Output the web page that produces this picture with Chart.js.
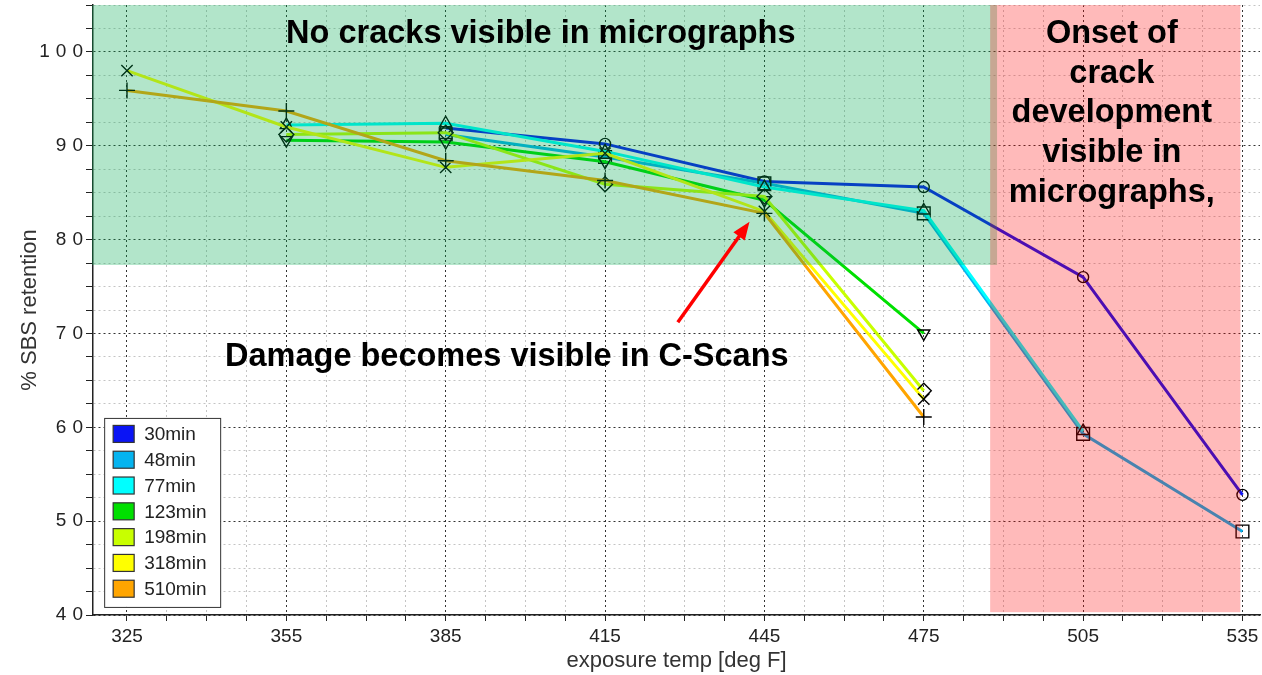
<!DOCTYPE html>
<html>
<head>
<meta charset="utf-8">
<script src="https://cdn.jsdelivr.net/npm/chart.js@4.4.1/dist/chart.umd.min.js"></script>
<style>
  body { margin: 0; background: #fff; }
  #wrap { width: 1262px; height: 675px; position: relative; }
</style>
</head>
<body>
<div id="wrap"><canvas id="sbsChart"></canvas></div>
<script>
      // exposure temperatures (x categories)
      const temps = [325, 355, 385, 415, 445, 475, 505, 535];

      // % SBS retention per exposure time, null = not tested
      const ret30 = [null, null, 91.9, 90.2, 86.2, 85.6, 76.0, 52.8];
      const ret48 = [null, null, 91.2, 88.8, 86.0, 82.8, 59.3, 48.9];
      const ret77 = [null, 92.2, 92.4, 89.4, 85.6, 83.1, 59.6, null];
      const ret123 = [null, 90.6, 90.4, 88.3, 84.2, 70.0, null, null];
      const ret198 = [null, 91.2, 91.4, 85.9, 84.6, 63.9, null, null];
      const ret318 = [98.0, 92.0, 87.7, 89.2, 83.0, 63.0, null, null];
      const ret510 = [95.9, 93.7, 88.4, 86.3, 82.8, 61.1, null, null];

      const seriesNames = ['30min', '48min', '77min', '123min', '198min', '318min', '510min'];
      const seriesValues = [ret30, ret48, ret77, ret123, ret198, ret318, ret510];

      // tick labels
      const xMajorTicks = [325, 355, 385, 415, 445, 475, 505, 535];
      const yMajorTicks = [40, 50, 60, 70, 80, 90, 100];

      // annotation texts
      const topLeftNote = 'No cracks visible in micrographs';
      const topRightNote = ['Onset of', 'crack', 'development', 'visible in', 'micrographs,'];
      const middleNote = 'Damage becomes visible in C-Scans';

      // styles kept apart from the data
      const lineColors = ['#0a14f5', '#05b4f0', '#00ffff', '#00e000', '#c8ff00', '#ffff00', '#ffa500'];
      const markerStyles = ['circle', 'rect', 'triangle', 'triangle', 'rectRot', 'crossRot', 'cross'];
      const markerRotation = [0, 0, 0, 180, 0, 0, 0];
      const markerRadius = [5.5, 9, 7, 7, 7.5, 8, 8];

      const datasets = seriesNames.map((name, i) => ({
        label: name,
        data: temps.map((t, k) => ({ x: t, y: seriesValues[i][k] })).filter(p => p.y !== null),
        borderColor: lineColors[i],
        backgroundColor: lineColors[i],
        borderWidth: 3,
        tension: 0,
        pointStyle: markerStyles[i],
        pointRotation: markerRotation[i],
        pointRadius: markerRadius[i],
        pointBorderColor: '#000',
        pointBackgroundColor: 'rgba(0,0,0,0)',
        pointBorderWidth: 1.4,
        order: seriesNames.length - i // later series drawn on top
      }));

      const isMajorX = v => xMajorTicks.includes(v);
      const isMajorY = v => yMajorTicks.includes(v);

      // y tick digits in the original are spaced out
      const spacedLabels = {
        id: 'spacedLabels',
        beforeDraw(chart) {
          const ys = chart.scales.y;
          if (ys._spaced) return;
          const orig = ys.drawLabels.bind(ys);
          ys.drawLabels = function (area) {
            const c = this.ctx;
            c.save();
            c.letterSpacing = '6px';
            c.translate(6, 0);
            orig(area);
            c.restore();
          };
          ys._spaced = true;
        }
      };

      // shaded zones + notes, drawn over the lines like in the original
      const zonePlugin = {
        id: 'zones',
        afterDatasetsDraw(chart) {
          const { ctx, chartArea: a, scales: { x, y } } = chart;
          ctx.save();
          ctx.fillStyle = 'rgba(0,170,80,0.30)';
          const gx = x.getPixelForValue(488.8);
          ctx.fillRect(a.left - 1, a.top, gx - a.left + 1, y.getPixelForValue(77.3) - a.top);
          ctx.fillStyle = 'rgba(255,0,0,0.27)';
          const px0 = x.getPixelForValue(487.5), px1 = x.getPixelForValue(534.6);
          ctx.fillRect(px0, a.top, px1 - px0, y.getPixelForValue(40.3) - a.top);
          ctx.restore();
        },
        afterDraw(chart) {
          const { ctx, scales: { x, y } } = chart;
          ctx.save();
          ctx.fillStyle = '#000';
          ctx.font = 'bold 32.5px "Liberation Sans", Arial, sans-serif';
          ctx.textAlign = 'center';
          ctx.textBaseline = 'middle';
          ctx.fillText(topLeftNote, x.getPixelForValue(402.9), y.getPixelForValue(101.9));
          topRightNote.forEach((line, i) => {
            ctx.fillText(line, x.getPixelForValue(510.4), y.getPixelForValue(101.9 - i * 4.23));
          });
          ctx.fillText(middleNote, x.getPixelForValue(396.5), y.getPixelForValue(67.5));

          // red arrow
          const x0 = x.getPixelForValue(428.7), y0 = y.getPixelForValue(71.2);
          const x1 = x.getPixelForValue(442.2), y1 = y.getPixelForValue(81.9);
          const ang = Math.atan2(y1 - y0, x1 - x0);
          ctx.strokeStyle = '#ff0000';
          ctx.fillStyle = '#ff0000';
          ctx.lineWidth = 3.5;
          ctx.beginPath();
          ctx.moveTo(x0, y0);
          ctx.lineTo(x1 - 14 * Math.cos(ang), y1 - 14 * Math.sin(ang));
          ctx.stroke();
          ctx.beginPath();
          ctx.moveTo(x1, y1);
          ctx.lineTo(x1 - 18 * Math.cos(ang) + 7 * Math.sin(ang), y1 - 18 * Math.sin(ang) - 7 * Math.cos(ang));
          ctx.lineTo(x1 - 18 * Math.cos(ang) - 7 * Math.sin(ang), y1 - 18 * Math.sin(ang) + 7 * Math.cos(ang));
          ctx.closePath();
          ctx.fill();

          // legend box, bottom left inside the plot
          const lx = x.getPixelForValue(320.7), ly = y.getPixelForValue(61.0);
          const lw = 116, lh = 189, rowH = 25.8;
          ctx.fillStyle = '#fff';
          ctx.fillRect(lx, ly, lw, lh);
          ctx.strokeStyle = '#333';
          ctx.lineWidth = 1;
          ctx.strokeRect(lx + 0.5, ly + 0.5, lw, lh);
          ctx.font = '19px "Liberation Sans", Arial, sans-serif';
          ctx.textAlign = 'left';
          seriesNames.forEach((name, i) => {
            const cy = ly + 16 + i * rowH;
            ctx.fillStyle = lineColors[i];
            ctx.fillRect(lx + 9, cy - 8.5, 21, 17);
            ctx.strokeStyle = '#333';
            ctx.lineWidth = 1.2;
            ctx.strokeRect(lx + 9, cy - 8.5, 21, 17);
            ctx.fillStyle = '#222';
            ctx.fillText(name, lx + 40, cy + 1);
          });
          ctx.restore();
        }
      };

      const ctxSbs = document.getElementById('sbsChart').getContext('2d');
      const sbsChart = new Chart(ctxSbs, {
        type: 'line',
        data: { datasets: datasets },
        plugins: [spacedLabels, zonePlugin],
        options: {
          responsive: true,
          maintainAspectRatio: false,
          animation: false,
          layout: { autoPadding: false, padding: { top: 5, right: 2, left: 0, bottom: 0 } },
          plugins: { legend: { display: false }, tooltip: { enabled: false } },
          scales: {
            x: {
              type: 'linear',
              min: 318.6,
              max: 538.3,
              afterBuildTicks: axis => {
                const t = [];
                for (let v = 325; v <= 538.3; v += 7.5) t.push({ value: v });
                axis.ticks = t;
              },
              afterFit: axis => {
                axis.height = 60;
                axis.paddingLeft = 0;
                axis.paddingRight = 0;
              },
              ticks: {
                autoSkip: false,
                maxRotation: 0,
                padding: 4,
                color: '#222',
                font: { size: 19 },
                callback: v => isMajorX(v) ? String(v) : ''
              },
              grid: {
                color: c => (c.tick && isMajorX(c.tick.value)) ? '#333' : '#c4c4c4',
                lineWidth: 1,
                tickColor: '#222',
                tickLength: 6
              },
              border: { display: true, color: '#222', width: 1.5, dash: [2, 3] },
              title: {
                display: true,
                text: 'exposure temp [deg F]',
                color: '#333',
                font: { size: 22 },
                padding: { top: 0, bottom: 1 }
              }
            },
            y: {
              min: 40,
              max: 105,
              afterBuildTicks: axis => {
                const t = [];
                for (let v = 40; v <= 105; v += 2.5) t.push({ value: v });
                axis.ticks = t;
              },
              afterFit: axis => {
                axis.width = 93;
                axis.paddingTop = 0;
                axis.paddingBottom = 0;
              },
              ticks: {
                autoSkip: false,
                padding: 3,
                color: '#222',
                font: { size: 19 },
                callback: v => isMajorY(v) ? String(v) : ''
              },
              grid: {
                color: c => (c.tick && isMajorY(c.tick.value)) ? '#333' : '#c4c4c4',
                lineWidth: 1,
                tickColor: '#222',
                tickLength: 7
              },
              border: { display: true, color: '#222', width: 1.5, dash: [2, 3] },
              title: {
                display: true,
                text: '% SBS retention',
                color: '#333',
                font: { size: 22 },
                padding: { top: 17, bottom: 0 }
              }
            }
          }
        }
      });
</script>
</body>
</html>
